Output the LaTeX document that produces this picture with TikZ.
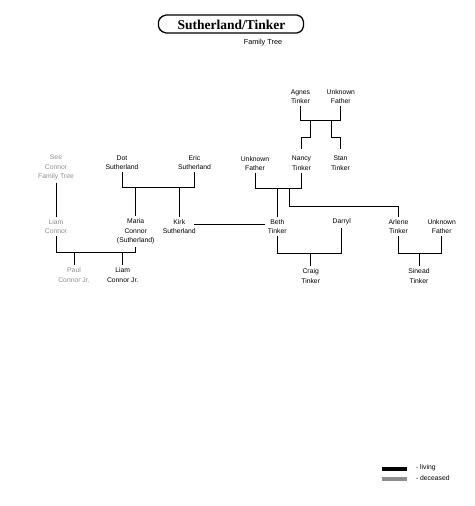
\documentclass[tikz,border=0pt]{standalone}
\usepackage{fontspec}
\setmainfont{Liberation Sans}
\newfontfamily\titlefont{Liberation Serif}
\definecolor{deadgray}{HTML}{8E8E8E}
\begin{document}
\begin{tikzpicture}[x=1pt,y=-1pt,
  person/.style={align=center,inner sep=0pt,outer sep=2.5pt,font=\fontsize{6.8}{9.5}\selectfont,text=black},
  dead/.style={person,text=deadgray},
  link/.style={draw=black,line width=0.8pt}]
\useasboundingbox (0,0) rectangle (474,506);
% title
\draw[line width=1.3pt,rounded corners=2pt] (164,15) -- (299,15) -- (303.5,19.5) -- (303.5,28.5) -- (299,33) -- (164,33) -- (158.5,28.5) -- (158.5,19.5) -- cycle;
\node[inner sep=0pt,font=\titlefont\bfseries\fontsize{13.5}{15}\selectfont] (title) at (231.5,24.5) {Sutherland/Tinker};
\node[inner sep=0pt,font=\fontsize{7.3}{9}\selectfont] (sub) at (263,42.5) {Family Tree};
% people
\node[person] (agnes) at (300.5,96.5) {Agnes\\Tinker};
\node[person] (unkf1) at (340.8,96.5) {Unknown\\Father};
\node[person] (nancy) at (301.5,163) {Nancy\\Tinker};
\node[person] (stan) at (340.5,163) {Stan\\Tinker};
\node[person] (unkf2) at (255,163.5) {Unknown\\Father};
\node[person] (dot) at (122,162.5) {Dot\\Sutherland};
\node[person] (eric) at (194.5,162.5) {Eric\\Sutherland};
\node[dead] (seec) at (56,167.5) {See\\Connor\\Family Tree};
\node[dead] (liamc) at (56,226.5) {Liam\\Connor};
\node[person] (maria) at (135.7,231.5) {Maria\\Connor\\(Sutherland)};
\node[person] (kirk) at (179.3,226.5) {Kirk\\Sutherland};
\node[person] (beth) at (277.3,226.5) {Beth\\Tinker};
\node[person] (darryl) at (341.7,222) {Darryl};
\node[person] (arlene) at (398.5,226.5) {Arlene\\Tinker};
\node[person] (unkf3) at (441.7,226.5) {Unknown\\Father};
\node[dead] (paul) at (74,275) {Paul\\Connor Jr.};
\node[person] (liamjr) at (122.7,275) {Liam\\Connor Jr.};
\node[person] (craig) at (310.7,276) {Craig\\Tinker};
\node[person] (sinead) at (419,276) {Sinead\\Tinker};
% junction coordinates
\coordinate (ja) at (0,120);
\coordinate (jb) at (0,188);
\coordinate (jc) at (0,187);
\coordinate (jd) at (0,252);
\coordinate (je) at (0,253);
\coordinate (da1) at (310.7,120);
\coordinate (da2) at (331.5,120);
\coordinate (db1) at (289.3,188);
\coordinate (dd1) at (74,252);
\coordinate (dd2) at (122.7,252);
\coordinate (de1) at (310.7,253);
\coordinate (de2) at (419,253);
% Agnes + Unknown Father
\draw[link] (agnes.south) |- (ja -| unkf1.south) -- (unkf1.south);
\draw[link] (da1) -- ++(0,17) -| ([yshift=4pt]nancy.north);
\draw[link] (da2) -- ++(0,17) -| ([yshift=4pt]stan.north);
% Unknown Father + Nancy
\draw[link] (unkf2.south) |- (jb -| nancy.south) -- (nancy.south);
\draw[link] (jb -| beth.north) -- (beth.north);
\draw[link] (db1) -- ++(0,18.7) -| (arlene.north);
% Dot + Eric
\draw[link] (dot.south) |- (jc -| eric.south) -- (eric.south);
\draw[link] (jc -| maria.north) -- (maria.north);
\draw[link] (jc -| kirk.north) -- (kirk.north);
% Connor
\draw[link] (seec.south) -- (liamc.north);
% Kirk - Beth
\draw[link] ([yshift=2.5pt,xshift=-4pt]kirk.east) -- ([yshift=2.5pt]beth.west);
% Liam Connor + Maria
\draw[link] (liamc.south) |- (jd -| maria.south) -- (maria.south);
\draw[link] (dd1) -- (paul.north);
\draw[link] (dd2) -- (liamjr.north);
% Beth + Darryl
\draw[link] (beth.south) |- (je -| darryl.south) -- (darryl.south);
\draw[link] (de1) -- (craig.north);
% Arlene + Unknown Father
\draw[link] (arlene.south) |- (je -| unkf3.south) -- (unkf3.south);
\draw[link] (de2) -- (sinead.north);
% legend
\fill[black] (381.7,466.5) rectangle (406.7,470.5);
\fill[deadgray] (381.7,476.5) rectangle (406.7,480.5);
\node[person,anchor=west] (lliv) at (413.5,467.5) {- living};
\node[person,anchor=west] (ldec) at (413.5,478.5) {- deceased};
\end{tikzpicture}
\end{document}
